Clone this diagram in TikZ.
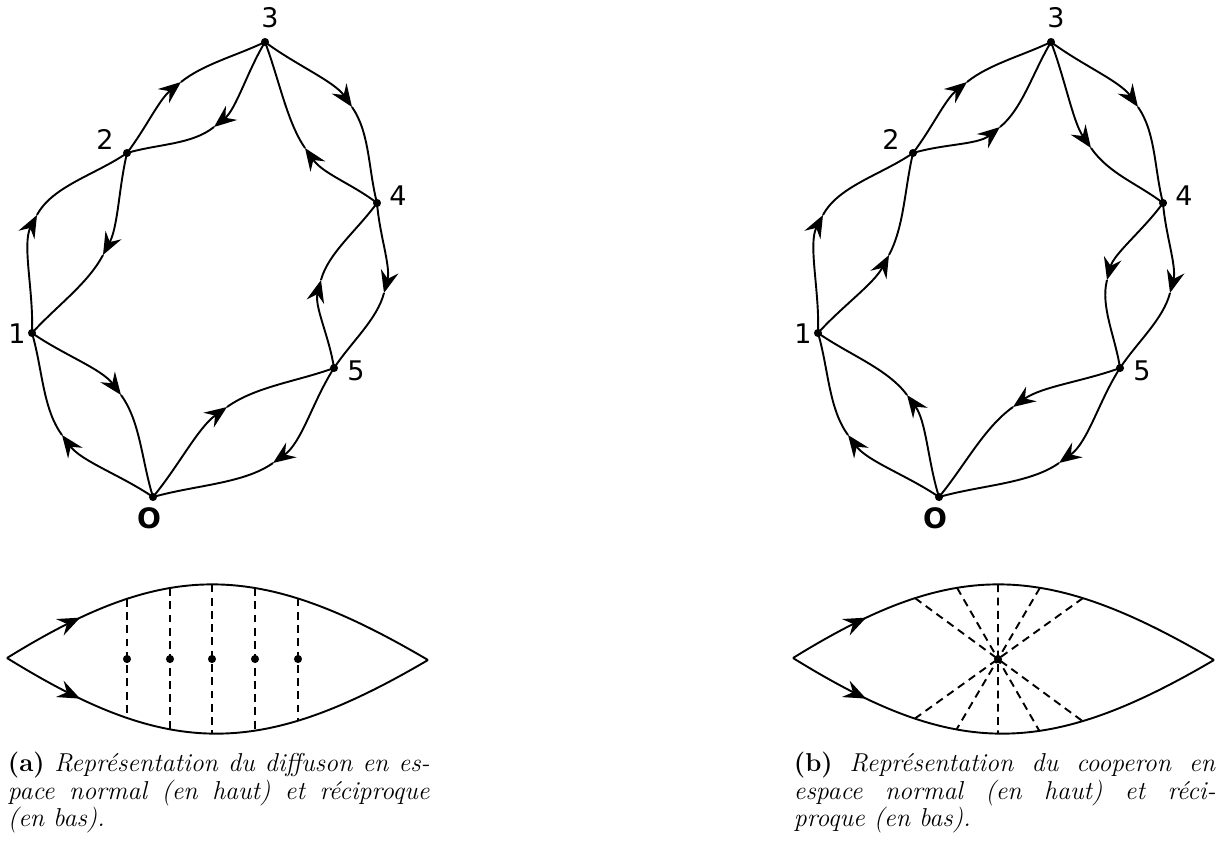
\documentclass[tikz,border=0pt]{standalone}
\usepackage{fontspec}
\newfontfamily\lblfont{DejaVu Sans}
\usetikzlibrary{arrows.meta,decorations.markings,intersections,calc}
\newcommand\lensedge[3]{%
  \draw[tipA] (#1.center) .. controls ($(#1.center)!0.35!(#2)$) and ($(#2)+0.16*(#1.center)-0.16*(#3.center)$) .. (#2);
  \draw (#2) .. controls ($(#2)-0.16*(#1.center)+0.16*(#3.center)$) and ($(#3.center)!0.35!(#2)$) .. (#3.center);}
\begin{document}
\begin{tikzpicture}[x=0.015625cm,y=-0.015625cm,line width=0.85pt,
  vtx/.style={circle,fill,inner sep=0pt,minimum size=3.6pt},
  lbl/.style={inner sep=0pt,font=\lblfont\fontsize{12}{14}\selectfont},
  lblb/.style={inner sep=0pt,font=\lblfont\bfseries\fontsize{12.5}{14}\selectfont},
  tipA/.style={-{Stealth[length=10pt,width=8pt,inset=3.5pt]}},
  arr/.style={postaction={decorate},decoration={markings,mark=at position #1 with {\arrow{Stealth[length=10pt,width=8pt,inset=3.5pt]}}}},
  arr/.default=0.5,
  dsh/.style={dash pattern=on 3.5pt off 2.4pt},
  captxt/.style={inner sep=0pt,anchor=base west,font=\fontsize{11.5}{12}\selectfont}
]
\useasboundingbox (0,0) rectangle (1219,843);

% ---------------- graph (a) ----------------
\node[vtx] (a0) at (153,497) {};
\node[vtx] (a1) at (32,333) {};
\node[vtx] (a2) at (127,153) {};
\node[vtx] (a3) at (265,42) {};
\node[vtx] (a4) at (377,203) {};
\node[vtx] (a5) at (334,368) {};
\node[lblb] (a0l) at (149,518) {O};
\node[lbl] (a1l) at (17,334) {1};
\node[lbl] (a2l) at (105,139) {2};
\node[lbl] (a3l) at (270,18) {3};
\node[lbl] (a4l) at (398,196) {4};
\node[lbl] (a5l) at (356,371) {5};
\coordinate (ako01) at (62,435);
\coordinate (ako12) at (37,215);
\coordinate (ako23) at (181,82);
\coordinate (ako34) at (352,107);
\coordinate (ako45) at (384,293);
\coordinate (ako50) at (273,463);
\coordinate (aki01) at (121,395);
\coordinate (aki12) at (103,255);
\coordinate (aki23) at (214,127);
\coordinate (aki34) at (305,148);
\coordinate (aki45) at (321,280);
\coordinate (aki50) at (227,407);
% outer ring
\lensedge{a0}{ako01}{a1}
\lensedge{a1}{ako12}{a2}
\lensedge{a2}{ako23}{a3}
\lensedge{a3}{ako34}{a4}
\lensedge{a4}{ako45}{a5}
\lensedge{a5}{ako50}{a0}
% inner ring (reversed)
\lensedge{a1}{aki01}{a0}
\lensedge{a2}{aki12}{a1}
\lensedge{a3}{aki23}{a2}
\lensedge{a4}{aki34}{a3}
\lensedge{a5}{aki45}{a4}
\lensedge{a0}{aki50}{a5}

% ---------------- graph (b) ----------------
\begin{scope}[shift={(786,0)}]
\node[vtx] (b0) at (153,497) {};
\node[vtx] (b1) at (32,333) {};
\node[vtx] (b2) at (127,153) {};
\node[vtx] (b3) at (265,42) {};
\node[vtx] (b4) at (377,203) {};
\node[vtx] (b5) at (334,368) {};
\node[lblb] (b0l) at (149,518) {O};
\node[lbl] (b1l) at (17,334) {1};
\node[lbl] (b2l) at (105,139) {2};
\node[lbl] (b3l) at (270,18) {3};
\node[lbl] (b4l) at (398,196) {4};
\node[lbl] (b5l) at (356,371) {5};
\coordinate (bko01) at (62,435);
\coordinate (bko12) at (37,215);
\coordinate (bko23) at (181,82);
\coordinate (bko34) at (352,107);
\coordinate (bko45) at (384,293);
\coordinate (bko50) at (273,463);
\coordinate (bki01) at (121,395);
\coordinate (bki12) at (103,255);
\coordinate (bki23) at (214,127);
\coordinate (bki34) at (305,148);
\coordinate (bki45) at (321,280);
\coordinate (bki50) at (227,407);
\end{scope}
\lensedge{b0}{bko01}{b1}
\lensedge{b1}{bko12}{b2}
\lensedge{b2}{bko23}{b3}
\lensedge{b3}{bko34}{b4}
\lensedge{b4}{bko45}{b5}
\lensedge{b5}{bko50}{b0}
\lensedge{b0}{bki01}{b1}
\lensedge{b1}{bki12}{b2}
\lensedge{b2}{bki23}{b3}
\lensedge{b3}{bki34}{b4}
\lensedge{b4}{bki45}{b5}
\lensedge{b5}{bki50}{b0}

% ---------------- lens (a) ----------------
\coordinate (aL) at (7,658);
\coordinate (aR) at (428,660);
\draw[arr=0.185, name path=aup] (aL) .. controls (167,559) and (258,560) .. (aR);
\draw[arr=0.185, name path=alo] (aL) .. controls (167,757) and (258,760) .. (aR);
\foreach \xx in {127,170,212,255,298} {
  \path[name path=vv] (\xx,540) -- (\xx,780);
  \path[name intersections={of=vv and aup,by=pp}];
  \path[name intersections={of=vv and alo,by=qq}];
  \draw[dsh] (pp) -- (qq);
  \node[vtx] (ad\xx) at (\xx,659) {};
}

% ---------------- lens (b) ----------------
\begin{scope}[shift={(786,0)}]
\coordinate (bL) at (7,658);
\coordinate (bR) at (428,660);
\coordinate (bc) at (212,659);
\draw[arr=0.185, name path=bup] (bL) .. controls (167,559) and (258,560) .. (bR);
\draw[arr=0.185, name path=blo] (bL) .. controls (167,757) and (258,760) .. (bR);
\foreach \xx in {129,171,212,254,297} {
  \path[name path=vv] (\xx,540) -- (\xx,700);
  \path[name intersections={of=vv and bup,by=pp}];
  \path[name path=ll] (pp) -- ($(pp)!2.6!(bc)$);
  \path[name intersections={of=ll and blo,by=qq}];
  \draw[dsh] (pp) -- (qq);
}
\node[vtx] (bdot) at (bc) {};
\end{scope}

% ---------------- captions ----------------
\node[captxt] (capa1) at (7,771) {\makebox[187.5pt][s]{\textbf{(a)} \textit{Représentation du diffuson en es-}}};
\node[captxt] (capa2) at (7,799) {\makebox[187.5pt][s]{\textit{pace normal (en haut) et réciproque}}};
\node[captxt] (capa3) at (7,826) {\textit{(en bas).}};
\node[captxt] (capb1) at (793,771) {\makebox[187.5pt][s]{\textbf{(b)} \textit{Représentation du cooperon en}}};
\node[captxt] (capb2) at (793,799) {\makebox[187.5pt][s]{\textit{espace normal (en haut) et réci-}}};
\node[captxt] (capb3) at (793,826) {\textit{proque (en bas).}};
\end{tikzpicture}
\end{document}
